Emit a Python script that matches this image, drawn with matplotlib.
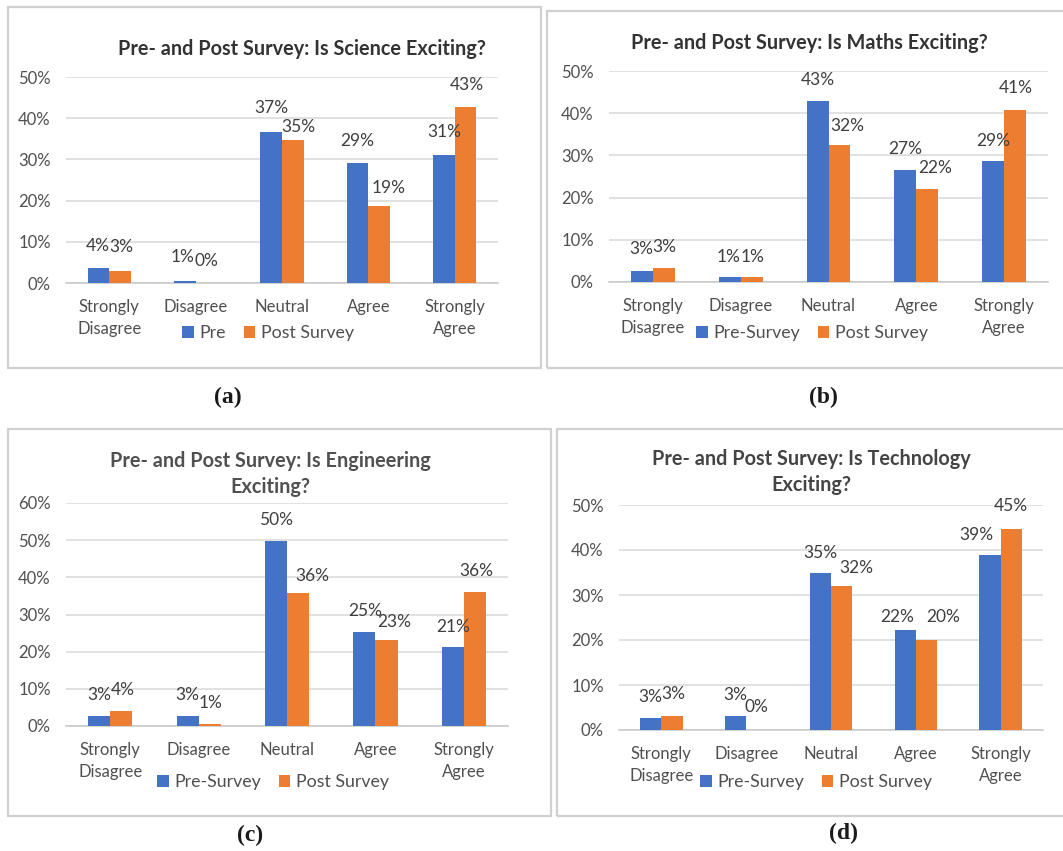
import matplotlib
matplotlib.use("Agg")
import matplotlib.pyplot as plt
import numpy as np
from matplotlib.patches import Rectangle, Patch

# ---- data -------------------------------------------------------------
categories = ["Strongly\nDisagree", "Disagree", "Neutral", "Agree", "Strongly\nAgree"]

science_pre = [0.037, 0.006, 0.367, 0.291, 0.310]
science_post = [0.029, 0.000, 0.347, 0.188, 0.428]

maths_pre = [0.027, 0.013, 0.429, 0.266, 0.286]
maths_post = [0.033, 0.013, 0.324, 0.221, 0.408]

engineering_pre = [0.028, 0.028, 0.498, 0.253, 0.212]
engineering_post = [0.040, 0.006, 0.357, 0.231, 0.361]

technology_pre = [0.027, 0.032, 0.350, 0.222, 0.390]
technology_post = [0.032, 0.000, 0.319, 0.200, 0.447]

ticks_50 = [0.0, 0.1, 0.2, 0.3, 0.4, 0.5]
ticks_60 = [0.0, 0.1, 0.2, 0.3, 0.4, 0.5, 0.6]

titles = [
    "Pre- and Post Survey: Is Science Exciting?",
    "Pre- and Post Survey: Is Maths Exciting?",
    "Pre- and Post Survey: Is Engineering\nExciting?",
    "Pre- and Post Survey: Is Technology\nExciting?",
]
legend_labels = [
    ("Pre", "Post Survey"),
    ("Pre-Survey", "Post Survey"),
    ("Pre-Survey", "Post Survey"),
    ("Pre-Survey", "Post Survey"),
]
captions = ["(a)", "(b)", "(c)", "(d)"]

# ---- style / layout ---------------------------------------------------
BLUE = "#4472C4"
ORANGE = "#ED7D31"
GRID = "#D9D9D9"
TEXT = "#505050"
LABEL = "#3F3F3F"
FONT = ["Lato", "DejaVu Sans"]

W, H = 1063, 851
plt.rcParams["font.family"] = FONT

# label nudges (pixels, x right / y up) relative to each bar top
offsets_pre = [
    [(-1, 22), (-2, 24), (0, 24), (0, 22), (0, 23)],
    [(-1, 22), (-1, 20), (0, 21), (0, 21), (0, 20)],
    [(0, 21), (0, 21), (0, 21), (1, 21), (0, 20)],
    [(0, 21), (0, 21), (0, 20), (-8, 13), (-14, 20)],
]
offsets_post = [
    [(1, 24), (0, 22), (6, 13), (9, 18), (1, 22)],
    [(0, 21), (1, 20), (8, 19), (8, 21), (1, 22)],
    [(2, 21), (1, 21), (14, 17), (8, 18), (1, 21)],
    [(1, 22), (0, 23), (15, 18), (17, 23), (0, 23)],
]

layout = [
    dict(rect=(66, 77, 498, 283), box=(8, 7, 541, 368), title=(302, 49),
         legend=(268, 333), caption=(228, 397), tcolor="#333333"),
    dict(rect=(609, 71, 1048, 282), box=(547, 11, 1075, 368), title=(809, 43),
         legend=(812, 333), caption=(823, 397), tcolor="#333333"),
    dict(rect=(66, 503, 508, 726), box=(8, 429, 551, 816), title=(270, 474),
         legend=(273, 782), caption=(250, 835), tcolor=TEXT),
    dict(rect=(619, 505, 1043, 730), box=(557, 429, 1075, 816), title=(811, 472),
         legend=(816, 782), caption=(844, 833), tcolor="#444444"),
]

series = [
    (science_pre, science_post, ticks_50),
    (maths_pre, maths_post, ticks_50),
    (engineering_pre, engineering_post, ticks_60),
    (technology_pre, technology_post, ticks_50),
]

fig = plt.figure(figsize=(W / 100, H / 100), dpi=100)
fig.patch.set_facecolor("white")


def fx(x):
    return x / W


def fy(y):
    return 1 - y / H


x = np.arange(len(categories))
bw = 0.25

for i, ((pre, post, ticks), lay) in enumerate(zip(series, layout)):
    # panel frame
    bx0, by0, bx1, by1 = lay["box"]
    fig.patches.append(Rectangle((fx(bx0), fy(by1)), (bx1 - bx0) / W, (by1 - by0) / H,
                                 transform=fig.transFigure, fill=False,
                                 edgecolor="#D0D0D0", linewidth=1.6, zorder=0))

    x0, y0, x1, y1 = lay["rect"]
    ax = fig.add_axes([fx(x0), fy(y1), (x1 - x0) / W, (y1 - y0) / H])
    ax.set_facecolor("none")

    bars_pre = ax.bar(x - bw / 2, pre, bw, color=BLUE, zorder=3)
    bars_post = ax.bar(x + bw / 2, post, bw, color=ORANGE, zorder=3)

    for bars, vals, offs in ((bars_pre, pre, offsets_pre[i]), (bars_post, post, offsets_post[i])):
        for b, v, (dx, dy) in zip(bars, vals, offs):
            ax.annotate(f"{v:.0%}", (b.get_x() + b.get_width() / 2, v),
                        xytext=(dx, dy), textcoords="offset pixels",
                        ha="center", va="center", fontsize=12.5, color=LABEL, zorder=4)

    ax.set_xlim(-0.5, len(categories) - 0.5)
    ax.set_ylim(0, ticks[-1])
    ax.set_yticks(ticks)
    ax.set_yticklabels([f"{t:.0%}" for t in ticks])
    ax.set_xticks(x)
    ax.set_xticklabels(categories)
    for lbl in ax.get_xticklabels():
        lbl.set_linespacing(1.5)
    ax.tick_params(axis="both", length=0, labelsize=12, labelcolor=TEXT)
    ax.tick_params(axis="y", pad=11)
    ax.tick_params(axis="x", pad=11.5)
    ax.grid(axis="y", color=GRID, linewidth=1.1, zorder=0)
    for s in ("top", "right", "left"):
        ax.spines[s].set_visible(False)
    ax.spines["bottom"].set_color("#C8C8C8")
    ax.spines["bottom"].set_linewidth(1.1)

    tx, ty = lay["title"]
    fig.text(fx(tx), fy(ty), titles[i], ha="center", va="center", fontsize=14.3,
             fontweight="bold", color=lay["tcolor"], linespacing=1.35)

    handles = [Patch(facecolor=BLUE), Patch(facecolor=ORANGE)]
    lx, ly = lay["legend"]
    fig.legend(handles, legend_labels[i], loc="center", bbox_to_anchor=(fx(lx), fy(ly)),
               ncol=2, frameon=False, fontsize=12.8, handlelength=0.65, handleheight=0.7,
               handletextpad=0.3, columnspacing=1.0, labelcolor=TEXT)

    cx, cy = lay["caption"]
    fig.text(fx(cx), fy(cy), captions[i], ha="center", va="center", fontsize=17,
             fontweight="bold", family=["Liberation Serif", "DejaVu Serif"], color="#1a1a1a")

fig.savefig("out.png", dpi=100, facecolor="white")
